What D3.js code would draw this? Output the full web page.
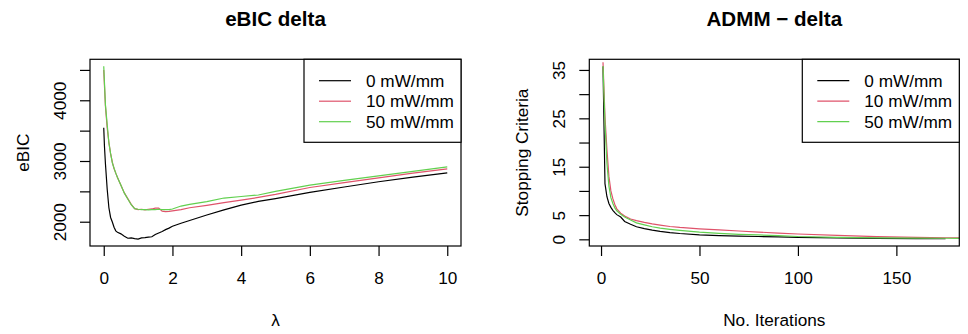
<!DOCTYPE html>
<html>
<head>
<meta charset="utf-8">
<script src="https://cdn.jsdelivr.net/npm/d3@7"></script>
<style>
    body { margin: 0; background: white; }
    svg { display: block; font-family: "Liberation Sans", Arial, sans-serif; }
    .tick line { stroke: #000; }
</style>
</head>
<body>
<svg id="chart" width="968" height="334"></svg>
<script>

// Data - eBIC vs lambda
const lambda = [0, 0.02, 0.05, 0.1, 0.15, 0.2, 0.25, 0.3, 0.35, 0.4, 0.5, 0.6, 0.7, 0.8, 0.9, 1.0,
                1.1, 1.2, 1.3, 1.4, 1.5, 1.6, 1.7, 1.8, 1.9, 2.0, 2.25, 2.5, 3.0, 3.5, 4.0, 4.5, 5.0,
                6.0, 7.0, 8.0, 9.0, 10.0];
const ebic0 = [3549, 3250, 2950, 2540, 2230, 2070, 1995, 1910, 1850, 1825, 1800, 1762, 1728, 1735, 1722, 1715,
               1735, 1738, 1745, 1752, 1790, 1815, 1840, 1870, 1895, 1925, 1975, 2020, 2110, 2195, 2274, 2335, 2380,
               2482, 2572, 2658, 2735, 2805];
const ebic10 = [4500, 4250, 3900, 3550, 3300, 3120, 2980, 2875, 2800, 2730, 2600, 2475, 2380, 2285, 2215, 2200,
                2205, 2195, 2205, 2210, 2225, 2225, 2175, 2165, 2170, 2180, 2200, 2230, 2270, 2315, 2356, 2400, 2450,
                2564, 2645, 2723, 2800, 2871];
const ebic50 = [4561, 4300, 3920, 3600, 3300, 3120, 2970, 2880, 2800, 2730, 2600, 2470, 2375, 2280, 2215, 2205,
                2200, 2200, 2195, 2198, 2200, 2205, 2200, 2200, 2200, 2210, 2258, 2285, 2330, 2390, 2415, 2440, 2500,
                2603, 2680, 2756, 2830, 2904];

// Data - ADMM stopping criteria vs iterations
const iters = [1, 2, 3, 4, 5, 6, 7, 8, 10, 12, 15, 18, 22, 26, 30, 35, 40, 50, 60, 70, 80, 90, 100,
               120, 140, 160, 175, 190];
const admm0 = [35.7, 11.5, 8.8, 7.4, 6.6, 6.0, 5.5, 5.1, 4.6, 3.7, 3.1, 2.6, 2.2, 1.9, 1.65, 1.4, 1.2, 0.92, 0.78, 0.68, 0.58, 0.5, 0.41,
               0.3, 0.2, 0.15, 0.12, null];
const admm10 = [36.6, 25.3, 18.5, 13, 10, 8.4, 7.2, 6.3, 5.4, 4.8, 4.2, 3.85, 3.5, 3.2, 2.95, 2.65, 2.45, 2.17, 1.95, 1.72, 1.5, 1.3, 1.1,
                0.8, 0.55, 0.4, 0.33, 0.28];
const admm50 = [35.8, 24, 15.7, 11, 8.6, 7.4, 6.5, 5.9, 5.2, 4.6, 4.0, 3.4, 3.0, 2.6, 2.3, 2.07, 1.85, 1.5, 1.25, 1.03, 0.9, 0.78, 0.58,
                0.42, 0.32, 0.25, 0.22, 0.2];

const legendLabels = ['0 mW/mm', '10 mW/mm', '50 mW/mm'];
const colors = ['#000000', '#DF536B', '#61D04F'];

const ebicXTicks = [0, 2, 4, 6, 8, 10];
const ebicYTicks = [2000, 2500, 3000, 3500, 4000, 4500];
const ebicYLabels = [2000, 3000, 4000];
const admmXTicks = [0, 50, 100, 150];
const admmYTicks = [0, 5, 10, 15, 20, 25, 30, 35];
const admmYLabels = [0, 5, 15, 25, 35];

// Constants
const FONT = 17.2;
const TICK = 10;
const svg = d3.select('#chart');

// R style 4% range expansion
function rRange(lim) {
    const d = (lim[1] - lim[0]) * 0.04;
    return [lim[0] - d, lim[1] + d];
}

function panel(opts) {
    const { id, box, xlim, ylim, xTicks, yTicks, yLabels, title, xlab, ylab, xs, series } = opts;
    const x = d3.scaleLinear().domain(rRange(xlim)).range([box.left, box.right]);
    const y = d3.scaleLinear().domain(rRange(ylim)).range([box.bottom, box.top]);

    svg.append('clipPath').attr('id', 'clip-' + id)
        .append('rect')
        .attr('x', box.left).attr('y', box.top)
        .attr('width', box.right - box.left).attr('height', box.bottom - box.top);

    // Lines
    const line = d3.line()
        .defined((d) => d[1] !== null)
        .x((d) => x(d[0]))
        .y((d) => y(d[1]));
    const g = svg.append('g').attr('clip-path', 'url(#clip-' + id + ')');
    series.forEach((s, i) => {
        g.append('path')
            .datum(xs.map((v, j) => [v, s[j]]))
            .attr('d', line)
            .attr('fill', 'none')
            .attr('stroke', colors[i])
            .attr('stroke-width', 1.2);
    });

    // Axes
    const xa = svg.append('g')
        .attr('transform', 'translate(0,' + box.bottom + ')')
        .call(d3.axisBottom(x).tickValues(xTicks).tickSize(TICK).tickSizeOuter(0));
    xa.select('.domain').remove();
    xa.selectAll('.tick line').attr('stroke-width', 1.2);
    xa.selectAll('text')
        .attr('y', 37.8).attr('dy', null)
        .attr('font-size', FONT).attr('font-family', null).attr('fill', '#000');

    const ya = svg.append('g')
        .attr('transform', 'translate(' + box.left + ',0)')
        .call(d3.axisLeft(y).tickValues(yTicks).tickSize(TICK).tickSizeOuter(0)
            .tickFormat((d) => yLabels.includes(d) ? d : ''));
    ya.select('.domain').remove();
    ya.selectAll('.tick line').attr('stroke-width', 1.2);
    ya.selectAll('text')
        .attr('x', null).attr('dy', null)
        .attr('transform', 'translate(-24,0) rotate(-90)')
        .attr('text-anchor', 'middle')
        .attr('font-size', FONT).attr('font-family', null).attr('fill', '#000');

    // Box
    svg.append('rect')
        .attr('x', box.left).attr('y', box.top)
        .attr('width', box.right - box.left).attr('height', box.bottom - box.top)
        .attr('fill', 'none').attr('stroke', '#000').attr('stroke-width', 1.2);

    const cx = (box.left + box.right) / 2;
    const cy = (box.top + box.bottom) / 2;

    // Titles
    svg.append('text')
        .attr('x', cx).attr('y', 26)
        .attr('text-anchor', 'middle')
        .attr('font-size', 20.6).attr('font-weight', 'bold')
        .text(title);
    svg.append('text')
        .attr('x', cx).attr('y', 326)
        .attr('text-anchor', 'middle')
        .attr('font-size', FONT)
        .text(xlab);
    svg.append('text')
        .attr('transform', 'translate(' + (box.left - 61) + ',' + cy + ') rotate(-90)')
        .attr('text-anchor', 'middle')
        .attr('font-size', FONT)
        .text(ylab);

    // Legend
    const lg = svg.append('g');
    const lgLeft = box.right - 157;
    lg.append('rect')
        .attr('x', lgLeft).attr('y', box.top)
        .attr('width', box.right - lgLeft).attr('height', 83)
        .attr('fill', 'white').attr('stroke', '#000').attr('stroke-width', 1.2);
    legendLabels.forEach((label, i) => {
        const ly = box.top + 21.4 + i * 20.5;
        lg.append('line')
            .attr('x1', lgLeft + 15).attr('x2', lgLeft + 47)
            .attr('y1', ly).attr('y2', ly)
            .attr('stroke', colors[i]).attr('stroke-width', 1.2);
        lg.append('text')
            .attr('x', lgLeft + 62).attr('y', ly)
            .attr('dy', '0.35em')
            .attr('font-size', FONT)
            .text(label);
    });
}

panel({
    id: 'ebic',
    box: { left: 90, right: 461, top: 59.3, bottom: 246 },
    xlim: [0, 10], ylim: [1714, 4561],
    xTicks: ebicXTicks, yTicks: ebicYTicks, yLabels: ebicYLabels,
    title: 'eBIC delta', xlab: 'λ', ylab: 'eBIC',
    xs: lambda, series: [ebic0, ebic10, ebic50]
});

panel({
    id: 'admm',
    box: { left: 589.3, right: 959.3, top: 59.3, bottom: 246 },
    xlim: [1, 175], ylim: [0.05, 35.77],
    xTicks: admmXTicks, yTicks: admmYTicks, yLabels: admmYLabels,
    title: 'ADMM \u2212 delta', xlab: 'No. Iterations', ylab: 'Stopping Criteria',
    xs: iters, series: [admm0, admm10, admm50]
});

</script>
</body>
</html>
